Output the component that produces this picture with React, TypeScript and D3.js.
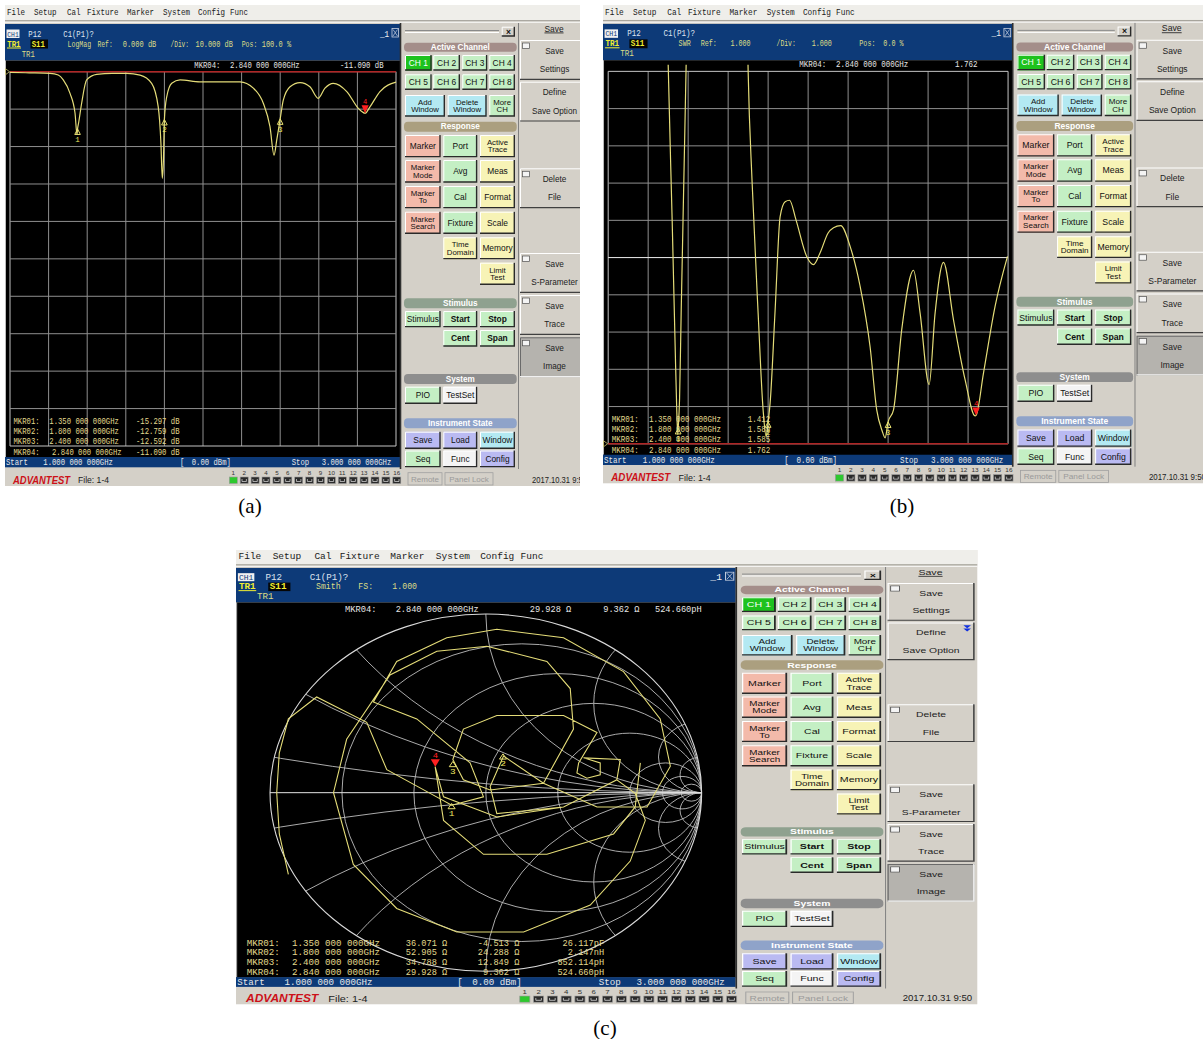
import React from "react";
import * as d3 from "d3";

const MONO = "'Liberation Mono', 'DejaVu Sans Mono', monospace";
const SANS = "'Liberation Sans', 'DejaVu Sans', Arial, sans-serif";
const SERIF = "'Liberation Serif', 'Times New Roman', serif";

// ---------------- data ----------------
const MENU_ITEMS = ["File", "Setup", "Cal", "Fixture", "Marker", "System", "Config", "Func"];
const START_GHZ = 1.0;
const STOP_GHZ = 3.0;
const START_LABEL = "1.000 000 000GHz";
const STOP_LABEL = "3.000 000 000GHz";
const POWER_LABEL = "0.00 dBm]";

const MARKER_IDS = ["MKR01:", "MKR02:", "MKR03:", "MKR04:"];
const MARKER_GHZ = [1.35, 1.8, 2.4, 2.84];
const MARKER_GHZ_LABEL = ["1.350 000 000GHz", "1.800 000 000GHz", "2.400 000 000GHz", "2.840 000 000GHz"];

// (a) LogMag S11
const LOGMAG_REF_DB = 0;
const LOGMAG_DIV_DB = 10;
const LOGMAG_GHZ = [1.0, 1.1, 1.207, 1.25, 1.276, 1.311, 1.337, 1.347, 1.35, 1.356, 1.371, 1.397, 1.449, 1.53, 1.605, 1.674, 1.734, 1.768, 1.782, 1.789, 1.795, 1.8, 1.812, 1.838, 1.881, 1.984, 2.088, 2.192, 2.261, 2.313, 2.347, 2.368, 2.382, 2.4, 2.416, 2.451, 2.503, 2.554, 2.597, 2.632, 2.675, 2.745, 2.805, 2.84, 2.865, 2.917, 3.0];
const LOGMAG_DB = [-0.2, -0.3, -0.45, -0.9, -2.2, -5.8, -11.1, -16.8, -15.3, -13.5, -8.5, -2.2, -0.7, -0.45, -0.45, -0.9, -3.1, -9.4, -19.1, -28.5, -23.6, -12.8, -6.7, -3.1, -2.2, -2.7, -2.7, -2.7, -4.4, -8.5, -14.7, -22.3, -18.3, -12.6, -7.6, -4.0, -2.9, -4.0, -7.1, -4.4, -3.1, -5.3, -9.8, -11.1, -9.4, -5.3, -2.8];
const LOGMAG_MARKER_DB = [-15.297, -12.759, -12.592, -11.09];
const LOGMAG_MARKER_LABEL = ["-15.297 dB", "-12.759 dB", "-12.592 dB", "-11.090 dB"];

// (b) SWR
const SWR_REF = 1;
const SWR_DIV = 1;
const SWR_GHZ = [1.0, 1.2, 1.29, 1.3, 1.32, 1.335, 1.343, 1.348, 1.35, 1.357, 1.365, 1.38, 1.39, 1.4, 1.55, 1.69, 1.7, 1.72, 1.75, 1.775, 1.79, 1.8, 1.81, 1.835, 1.86, 1.885, 1.907, 1.94, 1.993, 2.027, 2.06, 2.1, 2.127, 2.163, 2.21, 2.26, 2.31, 2.343, 2.37, 2.385, 2.4, 2.427, 2.468, 2.527, 2.56, 2.605, 2.635, 2.677, 2.727, 2.785, 2.835, 2.84, 2.877, 2.935, 2.997];
const SWR_VALUE = [30, 30, 14, 11.2, 7.0, 3.6, 1.9, 1.25, 1.41, 2.2, 4.5, 8.5, 11.2, 14, 30, 14, 11, 8.0, 4.5, 1.9, 1.2, 1.59, 2.1, 4.6, 7.1, 7.5, 7.54, 7.0, 6.03, 5.81, 6.13, 6.66, 6.8, 6.86, 6.3, 5.23, 3.6, 1.91, 1.35, 1.16, 1.59, 1.91, 4.06, 5.66, 4.51, 2.59, 4.51, 5.87, 4.33, 2.72, 1.75, 1.762, 2.9, 4.69, 6.03];
const SWR_MARKER = [1.412, 1.589, 1.585, 1.762];
const SWR_MARKER_LABEL = ["1.412", "1.589", "1.585", "1.762"];

// (c) Smith chart trace (reflection coefficient, re / im)
const SMITH_RE = [-0.915, -0.957, -0.969, -0.957, -0.915, -0.784, -0.552, -0.459, -0.258, -0.158, -0.011, -0.073, -0.32, -0.521, -0.413, -0.181, 0.051, 0.36, 0.638, 0.808, 0.855, 0.747, 0.515, 0.267, 0.082, 0.02, 0.051, 0.36, 0.607, 0.692, 0.739, 0.669, 0.484, 0.175, -0.134, -0.413, -0.614, -0.706, -0.645, -0.444, -0.227, 0.005, 0.283, 0.391, 0.406, 0.267, 0.02, -0.104, -0.153, -0.104, 0.051, 0.36, 0.515, 0.43, 0.422, 0.468, 0.53, 0.53, 0.453, 0.623, 0.607, 0.36, 0.051, -0.196, -0.235, -0.196, -0.011, 0.283, 0.592, 0.692, 0.716];
const SMITH_IM = [-0.458, -0.231, 0.0, 0.223, 0.413, 0.536, 0.394, 0.129, -0.004, -0.07, -0.023, 0.167, 0.413, 0.508, 0.735, 0.867, 0.915, 0.867, 0.678, 0.413, 0.148, -0.08, -0.08, 0.053, 0.205, 0.034, -0.117, -0.08, 0.072, -0.004, -0.155, -0.383, -0.629, -0.78, -0.78, -0.648, -0.402, 0.0, 0.299, 0.659, 0.792, 0.82, 0.735, 0.583, 0.356, 0.053, 0.015, 0.072, 0.186, 0.356, 0.432, 0.432, 0.337, 0.167, 0.11, 0.081, 0.1, 0.167, 0.195, 0.186, 0.072, -0.08, -0.136, -0.023, 0.146, -0.155, -0.345, -0.345, -0.231, -0.08, 0.167];
const SMITH_Z0 = 50;
const SMITH_MARKER_R = [36.071, 52.905, 34.788, 29.928];
const SMITH_MARKER_X = [-4.513, 24.288, 12.849, 9.362];
const SMITH_MARKER_R_LABEL = ["36.071 Ω", "52.905 Ω", "34.788 Ω", "29.928 Ω"];
const SMITH_MARKER_X_LABEL = ["-4.513 Ω", "24.288 Ω", "12.849 Ω", "9.362 Ω"];
const SMITH_MARKER_LC = ["26.117pF", "2.147nH", "852.114pH", "524.660pH"];
const SMITH_R_GRID = [0.2, 0.5, 1, 2, 5, 10, 20];
const SMITH_X_GRID = [0.1, 0.3, 0.5, 1, 2, 5, 10];

// ---------------- layout (base screen coordinates) ----------------
const GRID = { x0: 5, x1: 391, y0: 66.7, y1: 441 };
const SMITH = { cx: 197.5, cy: 256.8, rx: 170.6, ry: 189 };

const PANELS = [
  { id: "a", kind: "logmag", tx: 5, ty: 5, sx: 1, sy: 1, clipW: 575, label: "(a)", lx: 250, ly: 513, icon: false },
  { id: "b", kind: "swr", tx: 603, ty: 5, sx: 1.036, sy: 0.995, clipW: 600, label: "(b)", lx: 902, ly: 513, icon: false },
  { id: "c", kind: "smith", tx: 236, ty: 550, sx: 1.265, sy: 0.945, clipW: 586, label: "(c)", lx: 605, ly: 1035, icon: true },
];

const MENU_X = [2, 29, 62, 82, 122, 158, 193, 225];

const G = "#c4efc4", Y = "#f7f3b6", S = "#f3baaa", CY = "#b3e9f2", LV = "#babaf2", W = "#f4f4f4";
const CHC = [[400, 426.7], [428.3, 455], [457.3, 482.3], [484.3, 510]];
const C1 = [400, 435.7], C2 = [438.3, 472.3], C3 = [475, 510];
const R1 = [130, 152.3], R2 = [155, 177.7], R3 = [181, 203.3], R4 = [206.7, 229], R5 = [232.3, 254.3], R6 = [257.7, 280];
const BUTTONS: any[] = [
  { t: ["CH 1"], x: CHC[0], y: [50, 65.7], f: "#1ec21e", c: "#ffffff" },
  { t: ["CH 2"], x: CHC[1], y: [50, 65.7], f: G },
  { t: ["CH 3"], x: CHC[2], y: [50, 65.7], f: G },
  { t: ["CH 4"], x: CHC[3], y: [50, 65.7], f: G },
  { t: ["CH 5"], x: CHC[0], y: [69.3, 85], f: G },
  { t: ["CH 6"], x: CHC[1], y: [69.3, 85], f: G },
  { t: ["CH 7"], x: CHC[2], y: [69.3, 85], f: G },
  { t: ["CH 8"], x: CHC[3], y: [69.3, 85], f: G },
  { t: ["Add", "Window"], x: [400, 440], y: [90, 111.7], f: CY },
  { t: ["Delete", "Window"], x: [442.7, 481.7], y: [90, 111.7], f: CY },
  { t: ["More", "CH"], x: [484.3, 510], y: [90, 111.7], f: G },
  { t: ["Marker"], x: C1, y: R1, f: S },
  { t: ["Port"], x: C2, y: R1, f: G },
  { t: ["Active", "Trace"], x: C3, y: R1, f: Y },
  { t: ["Marker", "Mode"], x: C1, y: R2, f: S },
  { t: ["Avg"], x: C2, y: R2, f: G },
  { t: ["Meas"], x: C3, y: R2, f: Y },
  { t: ["Marker", "To"], x: C1, y: R3, f: S },
  { t: ["Cal"], x: C2, y: R3, f: G },
  { t: ["Format"], x: C3, y: R3, f: Y },
  { t: ["Marker", "Search"], x: C1, y: R4, f: S },
  { t: ["Fixture"], x: C2, y: R4, f: G },
  { t: ["Scale"], x: C3, y: R4, f: Y },
  { t: ["Time", "Domain"], x: C2, y: R5, f: Y },
  { t: ["Memory"], x: C3, y: R5, f: Y },
  { t: ["Limit", "Test"], x: C3, y: R6, f: Y },
  { t: ["Stimulus"], x: C1, y: [306, 322.3], f: G },
  { t: ["Start"], x: C2, y: [306, 322.3], f: G, b: true },
  { t: ["Stop"], x: C3, y: [306, 322.3], f: G, b: true },
  { t: ["Cent"], x: C2, y: [325, 341.7], f: G, b: true },
  { t: ["Span"], x: C3, y: [325, 341.7], f: G, b: true },
  { t: ["PIO"], x: C1, y: [381.7, 399], f: G },
  { t: ["TestSet"], x: C2, y: [381.7, 399], f: W },
  { t: ["Save"], x: C1, y: [426.7, 444], f: LV },
  { t: ["Load"], x: C2, y: [426.7, 444], f: LV },
  { t: ["Window"], x: C3, y: [426.7, 444], f: CY },
  { t: ["Seq"], x: C1, y: [445.5, 462.3], f: G },
  { t: ["Func"], x: C2, y: [445.5, 462.3], f: W },
  { t: ["Config"], x: C3, y: [445.5, 462.3], f: LV },
];
const HEADERS = [
  { t: "Active Channel", y: [37.7, 46.7], f: "#a48e8a" },
  { t: "Response", y: [116.7, 126.7], f: "#ab9f7f" },
  { t: "Stimulus", y: [293.3, 303.3], f: "#8fa18f" },
  { t: "System", y: [369, 379], f: "#8e8e8e" },
  { t: "Instrument State", y: [413.3, 423.3], f: "#8fa3c9" },
];
const SIDE_BOXES = [
  { t: ["Save", "Settings"], y: [35, 75], check: true, dark: false },
  { t: ["Define", "Save Option"], y: [76.7, 116.7], check: false, dark: false, icon: true },
  { t: ["Delete", "File"], y: [163.3, 203.3], check: true, dark: false },
  { t: ["Save", "S-Parameter"], y: [248, 288], check: true, dark: false },
  { t: ["Save", "Trace"], y: [290, 330], check: true, dark: false },
  { t: ["Save", "Image"], y: [332.3, 372.3], check: true, dark: true },
];
const PORT_NUMBERS = d3.range(1, 17);

const FORMAT_TEXT: any = {
  logmag: [["LogMag", 62.5, 3.95], ["Ref:", 92.5, 3.8], ["0.000 dB", 117.7, 4.2], ["/Div:", 165.5, 3.7], ["10.000 dB", 190.5, 4.15], ["Pos:", 236.7, 3.9], ["100.0 %", 256.7, 4.2]],
  swr: [["SWR", 73, 3.9], ["Ref:", 94.3, 3.9], ["1.000", 123, 3.9], ["/Div:", 167.6, 3.7], ["1.000", 201.4, 3.9], ["Pos:", 247.4, 3.9], ["0.0 %", 270.6, 3.9]],
  smith: [["Smith", 63.2, 3.9], ["FS:", 96.7, 3.9], ["1.000", 123.6, 3.9]],
};

const TRACE = "#e4dc78";
const TXT = "#e2d98e";
const NSS: any = "non-scaling-stroke";

function M(x: number, y: number, s: string, fill: string, opts: any = {}) {
  const cw = opts.cw ?? 4.35;
  return (
    <text x={x} y={y} fill={fill} fontFamily={MONO} fontSize={opts.fs ?? 8.6} fontWeight={opts.bold ? "bold" : "normal"}
      textAnchor={opts.anchor ?? "start"} textLength={s.length * cw} lengthAdjust="spacingAndGlyphs" style={{ whiteSpace: "pre" }}>
      {s}
    </text>
  );
}

function Button({ b }: any) {
  const [x0, x1] = b.x, [y0, y1] = b.y;
  const cx = (x0 + x1) / 2, cy = (y0 + y1) / 2;
  const n = b.t.length;
  return (
    <g>
      <rect x={x0} y={y0} width={x1 - x0} height={y1 - y0} fill={b.f} />
      <path d={`M${x0 + 0.5},${y1} L${x0 + 0.5},${y0 + 0.5} L${x1},${y0 + 0.5}`} stroke="#ffffff" strokeWidth={1} fill="none" />
      <path d={`M${x0},${y1 - 0.7} L${x1 - 0.7},${y1 - 0.7} L${x1 - 0.7},${y0}`} stroke="#2a2a2a" strokeWidth={1.4} fill="none" />
      {b.t.map((t: string, i: number) => (
        <text key={i} x={cx} y={cy + (i - (n - 1) / 2) * 7.6} dominantBaseline="central" textAnchor="middle"
          fontFamily={SANS} fontSize={n > 1 ? 7.8 : 8.4} fontWeight={b.b ? "bold" : "normal"} fill={b.c ?? "#111"}>
          {t}
        </text>
      ))}
    </g>
  );
}

function MarkerGlyph({ x, y, n, active }: any) {
  if (active) {
    return (
      <g>
        <path d={`M${x},${y} L${x - 3.6},${y - 8} L${x + 3.6},${y - 8} Z`} fill="#ff2020" />
        <text x={x} y={y - 9.5} textAnchor="middle" fontFamily={MONO} fontSize={7} fill="#ff2020">{n}</text>
      </g>
    );
  }
  return (
    <g>
      <path d={`M${x},${y} L${x - 2.8},${y + 5.5} L${x + 2.8},${y + 5.5} Z`} fill="none" stroke="#e8e070" strokeWidth={1} vectorEffect={NSS} />
      <text x={x} y={y + 13} textAnchor="middle" fontFamily={MONO} fontSize={7.5} fill="#f0e860">{n}</text>
    </g>
  );
}

function RectGrid({ kind }: any) {
  const xs = d3.range(11).map((i) => GRID.x0 + (i * (GRID.x1 - GRID.x0)) / 10);
  const ys = d3.range(11).map((i) => GRID.y0 + (i * (GRID.y1 - GRID.y0)) / 10);
  return (
    <g>
      {xs.map((x, i) => (
        <line key={"v" + i} x1={x} x2={x} y1={GRID.y0} y2={GRID.y1} stroke={i === 0 || i === 10 ? "#c4c4c4" : "#8f8f8f"} strokeWidth={1} vectorEffect={NSS} />
      ))}
      {ys.map((y, i) => (
        <line key={"h" + i} x1={GRID.x0} x2={GRID.x1} y1={y} y2={y}
          stroke={kind === "swr" && i === 5 ? "#eeeeee" : i === 0 || i === 10 ? "#c4c4c4" : "#8f8f8f"} strokeWidth={1} vectorEffect={NSS} />
      ))}
    </g>
  );
}

function LogMagPlot({ id }: any) {
  const x = d3.scaleLinear().domain([START_GHZ, STOP_GHZ]).range([GRID.x0, GRID.x1]);
  const y = d3.scaleLinear().domain([LOGMAG_REF_DB - 10 * LOGMAG_DIV_DB, LOGMAG_REF_DB]).range([GRID.y1, GRID.y0]);
  const pts = LOGMAG_GHZ.map((f, i) => [f, LOGMAG_DB[i]] as [number, number]);
  const line = d3.line<[number, number]>().x((d) => x(d[0])).y((d) => y(d[1])).curve(d3.curveMonotoneX);
  return (
    <g>
      <RectGrid kind="logmag" />
      <line x1={GRID.x0} x2={GRID.x1} y1={y(LOGMAG_REF_DB)} y2={y(LOGMAG_REF_DB)} stroke="#b02525" strokeWidth={1.6} vectorEffect={NSS} />
      <path d={`M${GRID.x0 - 4.5},${y(LOGMAG_REF_DB) - 3} l4,3 l-4,3 z`} fill="none" stroke="#c8c070" strokeWidth={0.8} />
      <g clipPath={`url(#plot-${id})`}>
        <path d={line(pts) ?? ""} fill="none" stroke={TRACE} strokeWidth={1.2} vectorEffect={NSS} />
      </g>
      {MARKER_GHZ.map((f, i) => (
        <MarkerGlyph key={i} x={x(f)} y={y(LOGMAG_MARKER_DB[i])} n={i + 1} active={i === 3} />
      ))}
    </g>
  );
}

function SwrPlot({ id }: any) {
  const x = d3.scaleLinear().domain([START_GHZ, STOP_GHZ]).range([GRID.x0, GRID.x1]);
  const y = d3.scaleLinear().domain([SWR_REF, SWR_REF + 10 * SWR_DIV]).range([GRID.y1, GRID.y0]);
  const pts = SWR_GHZ.map((f, i) => [f, SWR_VALUE[i]] as [number, number]);
  const line = d3.line<[number, number]>().x((d) => x(d[0])).y((d) => y(d[1])).curve(d3.curveMonotoneX);
  return (
    <g>
      <RectGrid kind="swr" />
      <line x1={GRID.x0} x2={GRID.x1} y1={y(SWR_REF)} y2={y(SWR_REF)} stroke="#b02525" strokeWidth={1.6} vectorEffect={NSS} />
      <path d={`M${GRID.x0 - 4.5},${y(SWR_REF) - 3} l4,3 l-4,3 z`} fill="none" stroke="#c8c070" strokeWidth={0.8} />
      <g clipPath={`url(#plot-${id})`}>
        <path d={line(pts) ?? ""} fill="none" stroke={TRACE} strokeWidth={1.2} vectorEffect={NSS} />
      </g>
      {MARKER_GHZ.map((f, i) => (
        <MarkerGlyph key={i} x={x(f)} y={y(SWR_MARKER[i])} n={i + 1} active={i === 3} />
      ))}
    </g>
  );
}

function SmithPlot({ id }: any) {
  const px = d3.scaleLinear().domain([-1, 1]).range([SMITH.cx - SMITH.rx, SMITH.cx + SMITH.rx]);
  const py = d3.scaleLinear().domain([-1, 1]).range([SMITH.cy + SMITH.ry, SMITH.cy - SMITH.ry]);
  const pts = SMITH_RE.map((r, i) => [r, SMITH_IM[i]] as [number, number]);
  const line = d3.line<[number, number]>().x((d) => px(d[0])).y((d) => py(d[1])).curve(d3.curveLinear);
  const gam = (R: number, X: number) => {
    const a = R / SMITH_Z0, b = X / SMITH_Z0;
    const den = (a + 1) * (a + 1) + b * b;
    return [((a - 1) * (a + 1) + b * b) / den, (2 * b) / den];
  };
  const gridStroke = "#bdbdbd";
  return (
    <g>
      <defs>
        <clipPath id={`smith-${id}`}>
          <ellipse cx={SMITH.cx} cy={SMITH.cy} rx={SMITH.rx} ry={SMITH.ry} />
        </clipPath>
      </defs>
      <g clipPath={`url(#smith-${id})`}>
        {SMITH_X_GRID.flatMap((xv) => [1, -1].map((s) => (
          <ellipse key={`x${xv}${s}`} cx={px(1)} cy={py(s / xv)} rx={SMITH.rx / xv} ry={SMITH.ry / xv}
            fill="none" stroke={gridStroke} strokeWidth={0.9} vectorEffect={NSS} />
        )))}
        {SMITH_R_GRID.map((r) => (
          <ellipse key={`r${r}`} cx={px(r / (1 + r))} cy={SMITH.cy} rx={SMITH.rx / (1 + r)} ry={SMITH.ry / (1 + r)}
            fill="none" stroke={gridStroke} strokeWidth={0.9} vectorEffect={NSS} />
        ))}
      </g>
      <ellipse cx={SMITH.cx} cy={SMITH.cy} rx={SMITH.rx} ry={SMITH.ry} fill="none" stroke="#d8d8d8" strokeWidth={1.1} vectorEffect={NSS} />
      <line x1={px(-1)} x2={px(1)} y1={SMITH.cy} y2={SMITH.cy} stroke="#e6e6e6" strokeWidth={1} vectorEffect={NSS} />
      <g clipPath={`url(#plot-${id})`}>
        <path d={line(pts) ?? ""} fill="none" stroke={TRACE} strokeWidth={1.1} vectorEffect={NSS} />
      </g>
      {SMITH_MARKER_R.map((R, i) => {
        const [gr, gi] = gam(R, SMITH_MARKER_X[i]);
        return <MarkerGlyph key={i} x={px(gr)} y={py(gi)} n={i + 1} active={i === 3} />;
      })}
    </g>
  );
}

function Screen({ cfg }: any) {
  const kind = cfg.kind;
  const fmt = FORMAT_TEXT[kind];
  const hdrY = kind === "smith" ? 66 : 62.5;
  const rowsY = [419, 429, 439, 449.8];
  return (
    <g transform={`translate(${cfg.tx},${cfg.ty}) scale(${cfg.sx},${cfg.sy})`}>
      <defs>
        <clipPath id={`clip-${cfg.id}`}>
          <rect x={0} y={0} width={cfg.clipW} height={481} />
        </clipPath>
        <clipPath id={`plot-${cfg.id}`}>
          <rect x={0.5} y={60} width={394} height={392} />
        </clipPath>
      </defs>
      <g clipPath={`url(#clip-${cfg.id})`}>
        {/* window background */}
        <rect x={0} y={0} width={600} height={481} fill="#d4d0c8" />
        {/* menu bar */}
        <rect x={0} y={0} width={600} height={15} fill="#efeeea" />
        <line x1={0} x2={600} y1={15.8} y2={15.8} stroke="#9a9890" strokeWidth={1} vectorEffect={NSS} />
        <line x1={0} x2={600} y1={17.2} y2={17.2} stroke="#ffffff" strokeWidth={1} vectorEffect={NSS} />
        {MENU_ITEMS.map((m, i) => (
          <g key={m}>{M(MENU_X[i], 9.8, m, "#202020", { cw: 4.5, fs: 9 })}</g>
        ))}

        {/* channel header */}
        <rect x={0} y={19} width={395} height={36.5} fill="#0d3a78" />
        <rect x={1.5} y={24.5} width={13} height={8.5} fill="#f0f0f0" />
        {M(2.3, 31.5, "CH1", "#0d3a78", { cw: 3.8, fs: 8 })}
        {M(23.3, 31.5, "P12", "#dde3ee")}
        {M(58.3, 31.5, "C1(P1)?", "#dde3ee")}
        {M(2.3, 41.5, "TR1", "#f2ee30", { bold: true, cw: 4.4 })}
        <line x1={2} x2={16} y1={43} y2={43} stroke="#f2ee30" strokeWidth={1} vectorEffect={NSS} />
        <rect x={25.5} y={34.5} width={17.5} height={9} fill="#050505" />
        {M(26.7, 41.5, "S11", "#f2ee30", { bold: true, cw: 4.4 })}
        {fmt.map(([t, x, cw]: any, i: number) => <g key={i}>{M(x, 41.5, t, "#dcdc86", { cw })}</g>)}
        {M(16.7, 51.5, "TR1", "#dcdc86")}
        {M(375, 31.5, "_1", "#f0f0f0", { cw: 4.6 })}
        <rect x={387} y={23.5} width={6.5} height={8.5} fill="none" stroke="#c8d0e0" strokeWidth={0.8} />
        <path d="M388,24.5 l4.5,6.5 M392.5,24.5 l-4.5,6.5" stroke="#c8d0e0" strokeWidth={0.7} />

        {/* black measurement area */}
        <rect x={0} y={55.5} width={395} height={397} fill="#000000" />
        <line x1={0.5} x2={0.5} y1={55.5} y2={452} stroke="#bcbcbc" strokeWidth={1} vectorEffect={NSS} />
        {kind === "logmag" && <LogMagPlot id={cfg.id} />}
        {kind === "swr" && <SwrPlot id={cfg.id} />}
        {kind === "smith" && <SmithPlot id={cfg.id} />}

        {/* active marker readout */}
        {kind === "logmag" && (
          <g>
            {M(189.3, hdrY, MARKER_IDS[3], "#e6e6e6")}
            {M(225, hdrY, MARKER_GHZ_LABEL[3], "#e6e6e6")}
            {M(335, hdrY, LOGMAG_MARKER_LABEL[3], "#e6e6e6")}
          </g>
        )}
        {kind === "swr" && (
          <g>
            {M(189.5, hdrY, MARKER_IDS[3], "#e6e6e6")}
            {M(225, hdrY, MARKER_GHZ_LABEL[3], "#e6e6e6")}
            {M(339.8, hdrY, SWR_MARKER_LABEL[3], "#e6e6e6")}
          </g>
        )}
        {kind === "smith" && (
          <g>
            {M(86.2, hdrY, MARKER_IDS[3], "#e6e6e6", { cw: 4.15 })}
            {M(126.2, hdrY, MARKER_GHZ_LABEL[3], "#e6e6e6", { cw: 4.1 })}
            {M(265, hdrY, SMITH_MARKER_R_LABEL[3], "#e6e6e6", { cw: 4.1, anchor: "end" })}
            {M(319, hdrY, SMITH_MARKER_X_LABEL[3], "#e6e6e6", { cw: 4.1, anchor: "end" })}
            {M(331.2, hdrY, SMITH_MARKER_LC[3], "#e6e6e6", { cw: 4.1 })}
          </g>
        )}

        {/* marker table */}
        {MARKER_IDS.map((id, i) => (
          <g key={id}>
            {M(8.5, rowsY[i], id, TXT)}
            {M(i === 3 && kind === "logmag" ? 47 : 44.3, rowsY[i], MARKER_GHZ_LABEL[i], TXT)}
            {kind === "logmag" && M(131, rowsY[i], LOGMAG_MARKER_LABEL[i], TXT)}
            {kind === "swr" && M(139.7, rowsY[i], SWR_MARKER_LABEL[i], TXT)}
            {kind === "smith" && (
              <g>
                {M(167, rowsY[i], SMITH_MARKER_R_LABEL[i], TXT, { cw: 4.1, anchor: "end" })}
                {M(224, rowsY[i], SMITH_MARKER_X_LABEL[i], TXT, { cw: 4.1, anchor: "end" })}
                {M(291, rowsY[i], SMITH_MARKER_LC[i], TXT, { cw: 4.1, anchor: "end" })}
              </g>
            )}
          </g>
        ))}

        {/* stimulus bar */}
        <rect x={0} y={452} width={395} height={10.3} fill="#0d3a78" />
        {M(1, 460.3, "Start", "#e8e8e8")}
        {M(38.3, 460.3, START_LABEL, "#e8e8e8")}
        {M(175, 460.3, "[", "#e8e8e8")}
        {M(186.7, 460.3, POWER_LABEL, "#e8e8e8")}
        {M(286.7, 460.3, "Stop", "#e8e8e8")}
        {M(316.7, 460.3, STOP_LABEL, "#e8e8e8")}

        {/* status bar */}
        <text x={8} y={478.5} fontFamily={SANS} fontSize={11} fontWeight="bold" fontStyle="italic" fill="#cc1018"
          textLength={57} lengthAdjust="spacingAndGlyphs">ADVANTEST</text>
        <text x={73} y={478} fontFamily={SANS} fontSize={8.6} fill="#222">File: 1-4</text>
        {PORT_NUMBERS.map((n, i) => {
          const x = 228.3 + i * 10.9;
          return (
            <g key={n}>
              <text x={x} y={469.5} textAnchor="middle" fontFamily={SANS} fontSize={6.2} fill="#333">{n}</text>
              <rect x={x - 4} y={472} width={8} height={6.5} fill={i === 0 ? "#2ec82e" : "#2a2a2a"} stroke="#9a9a9a" strokeWidth={0.6} />
              {i > 0 && <path d={`M${x - 2.2},${474} v2.5 h4.4 v-2.5`} fill="none" stroke="#e0e0e0" strokeWidth={0.7} />}
            </g>
          );
        })}
        <rect x={403} y={467.7} width={34} height={12.3} fill="#d4d0c8" stroke="#a0a0a0" strokeWidth={0.8} />
        <text x={420} y={476.8} textAnchor="middle" fontFamily={SANS} fontSize={8} fill="#9a9a9a">Remote</text>
        <rect x={440} y={467.7} width={48} height={12.3} fill="#d4d0c8" stroke="#a0a0a0" strokeWidth={0.8} />
        <text x={464} y={476.8} textAnchor="middle" fontFamily={SANS} fontSize={8} fill="#9a9a9a">Panel Lock</text>
        <text x={527} y={477.5} fontFamily={SANS} fontSize={8.6} fill="#222" textLength={55} lengthAdjust="spacingAndGlyphs">2017.10.31 9:50</text>

        {/* soft-key panel */}
        <line x1={395.5} x2={395.5} y1={18} y2={464} stroke="#303030" strokeWidth={1.6} vectorEffect={NSS} />
        <line x1={400} x2={494} y1={25.5} y2={25.5} stroke="#8a8a8a" strokeWidth={1} vectorEffect={NSS} />
        <line x1={400} x2={494} y1={27.5} y2={27.5} stroke="#ffffff" strokeWidth={1} vectorEffect={NSS} />
        <Button b={{ t: ["×"], x: [496.7, 510], y: [21.7, 31.7], f: "#d4d0c8", b: true }} />
        {HEADERS.map((h) => (
          <g key={h.t}>
            <rect x={399} y={h.y[0]} width={112.7} height={h.y[1] - h.y[0]} rx={4} fill={h.f} />
            <text x={455.3} y={(h.y[0] + h.y[1]) / 2} dominantBaseline="central" textAnchor="middle" fontFamily={SANS}
              fontSize={8.2} fontWeight="bold" fill="#ffffff">{h.t}</text>
          </g>
        ))}
        {BUTTONS.map((b, i) => <Button key={i} b={b} />)}

        {/* right column */}
        <line x1={513.5} x2={513.5} y1={18} y2={464} stroke="#808080" strokeWidth={1} vectorEffect={NSS} />
        <text x={549} y={26.5} textAnchor="middle" fontFamily={SANS} fontSize={8.4} fill="#222" textDecoration="underline">Save</text>
        {SIDE_BOXES.map((s) => {
          const x0 = 515, x1 = 584, [y0, y1] = s.y;
          return (
            <g key={s.t.join()}>
              <rect x={x0} y={y0} width={x1 - x0} height={y1 - y0} fill={s.dark ? "#b5b3ae" : "#d4d0c8"} />
              <path d={`M${x0 + 0.5},${y1} L${x0 + 0.5},${y0 + 0.5} L${x1},${y0 + 0.5}`} stroke={s.dark ? "#6a6a6a" : "#ffffff"} strokeWidth={1} fill="none" />
              <path d={`M${x0},${y1 - 0.7} L${x1 - 0.7},${y1 - 0.7} L${x1 - 0.7},${y0}`} stroke={s.dark ? "#f0f0f0" : "#404040"} strokeWidth={1.2} fill="none" />
              {s.check && <rect x={x0 + 2.5} y={y0 + 3} width={7} height={5.5} fill="#f4f4f4" stroke="#505050" strokeWidth={0.7} />}
              {s.icon && cfg.icon && (
                <path d={`M${x1 - 9},${y0 + 3} h6 l-3,3 z M${x1 - 9},${y0 + 6.5} h6 l-3,3 z`} fill="#1030e0" />
              )}
              <text x={549.5} y={y0 + 11} dominantBaseline="central" textAnchor="middle" fontFamily={SANS} fontSize={8.2} fill="#222">{s.t[0]}</text>
              <text x={549.5} y={y0 + 29.3} dominantBaseline="central" textAnchor="middle" fontFamily={SANS} fontSize={8.2} fill="#222">{s.t[1]}</text>
            </g>
          );
        })}
      </g>
    </g>
  );
}

export default function App() {
  return (
    <svg width={1203} height={1039} xmlns="http://www.w3.org/2000/svg" style={{ position: "absolute", left: 0, top: 0, display: "block" }}>
      <rect x={0} y={0} width={1203} height={1039} fill="#ffffff" />
      {PANELS.map((p) => <Screen key={p.id} cfg={p} />)}
      {PANELS.map((p) => (
        <text key={p.id + "-label"} x={p.lx} y={p.ly} textAnchor="middle" fontFamily={SERIF} fontSize={21} fill="#000">{p.label}</text>
      ))}
    </svg>
  );
}
